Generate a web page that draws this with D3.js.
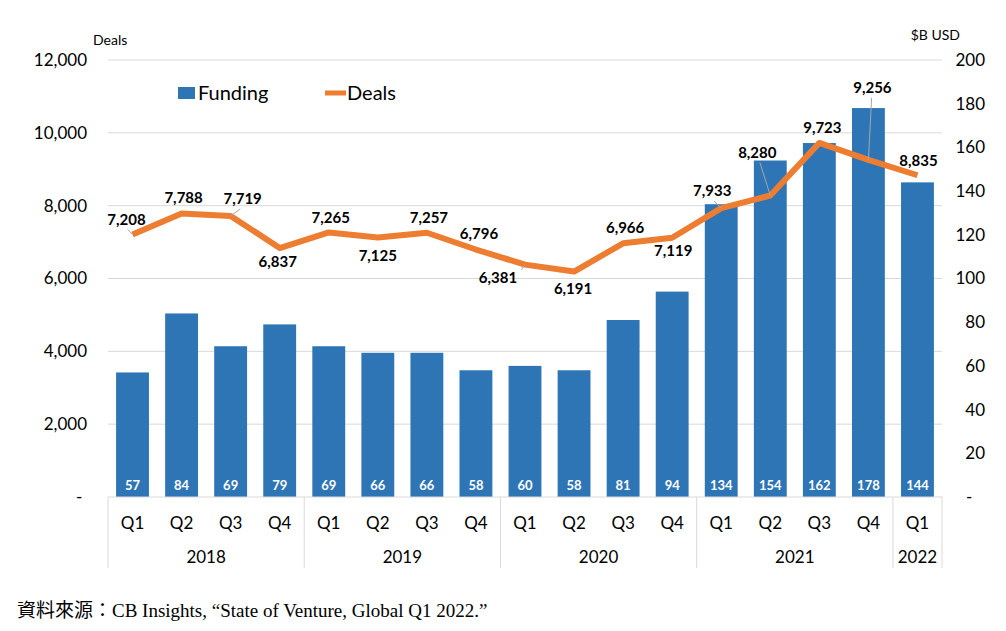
<!DOCTYPE html>
<html>
<head>
<meta charset="utf-8">
<script src="https://cdn.jsdelivr.net/npm/d3@7"></script>
<style>
  body { margin: 0; background: #fff; }
  text { font-family: Lato, "Open Sans", sans-serif; fill: #000; }
</style>
</head>
<body>
<script>
// Datos del gráfico
var quarters = ["Q1","Q2","Q3","Q4","Q1","Q2","Q3","Q4","Q1","Q2","Q3","Q4","Q1","Q2","Q3","Q4","Q1"];
var years = ["2018","2019","2020","2021","2022"];
var yearCounts = [4, 4, 4, 4, 1];
var funding = [57, 84, 69, 79, 69, 66, 66, 58, 60, 58, 81, 94, 134, 154, 162, 178, 144];
var deals = [7208, 7788, 7719, 6837, 7265, 7125, 7257, 6796, 6381, 6191, 6966, 7119, 7933, 8280, 9723, 9256, 8835];
var leftTicks = [0, 2000, 4000, 6000, 8000, 10000, 12000];
var rightTicks = [0, 20, 40, 60, 80, 100, 120, 140, 160, 180, 200];

// desplazamiento de las etiquetas de "Deals" respecto al punto (px)
var labelOffsets = [[-6,-15],[2,-16],[12,-17],[-2,14],[2,-15],[0,18],[2,-15],[3,-16],[-27,13],
                    [-1,17],[2,-16],[1,13],[-9,-17],[-13,-43],[3,-15],[4,-72],[1,-15]];
var leaderLines = [0, 2, 8, 12, 13, 15];

var W = 1006, H = 631;
var mLeft = 108, mRight = 942, mTop = 60, mBottom = 497;

var svg = d3.select("body").append("svg").attr("width", W).attr("height", H);

var idx = d3.range(quarters.length);
var x = d3.scaleBand().domain(idx).range([mLeft, mRight]).paddingInner(0.33).paddingOuter(0.165);
var yL = d3.scaleLinear().domain([0, 12000]).range([mBottom, mTop]);
var yR = d3.scaleLinear().domain([0, 200]).range([mBottom, mTop]);
var cx = i => x(i) + x.bandwidth() / 2;

// gridlines
svg.selectAll("line.grid").data(leftTicks.slice(1)).enter().append("line")
  .attr("x1", mLeft).attr("x2", mRight)
  .attr("y1", d => yL(d)).attr("y2", d => yL(d))
  .attr("stroke", "#d9d9d9").attr("stroke-width", 1);

// eje izquierdo
svg.selectAll("text.lt").data(leftTicks).enter().append("text")
  .attr("x", d => d === 0 ? 76 : 87)
  .attr("y", d => yL(d)).attr("dy", "0.35em")
  .attr("text-anchor", d => d === 0 ? "start" : "end")
  .style("font-size", "17px")
  .text(d => d === 0 ? "-" : d3.format(",")(d));

// eje derecho
svg.selectAll("text.rt").data(rightTicks).enter().append("text")
  .attr("x", d => d === 0 ? 966 : 985)
  .attr("y", d => yR(d)).attr("dy", "0.35em")
  .attr("text-anchor", d => d === 0 ? "start" : "end")
  .style("font-size", "17px")
  .text(d => d === 0 ? "-" : d);

svg.append("text").attr("x", 93).attr("y", 45).style("font-size", "14px").text("Deals");
svg.append("text").attr("x", 960).attr("y", 40).attr("text-anchor", "end").style("font-size", "14px").text("$B USD");

// barras
svg.selectAll("rect.bar").data(funding).enter().append("rect")
  .attr("x", (d, i) => x(i)).attr("width", x.bandwidth())
  .attr("y", d => yR(d)).attr("height", d => mBottom - yR(d))
  .attr("fill", "#2E75B6");

svg.selectAll("text.bl").data(funding).enter().append("text")
  .attr("x", (d, i) => cx(i)).attr("y", 485).attr("dy", "0.35em")
  .attr("text-anchor", "middle")
  .style("font-size", "13px").style("font-weight", "bold").style("fill", "#fff")
  .text(d => d);

// eje de categorías
svg.append("line").attr("x1", mLeft).attr("x2", mRight).attr("y1", mBottom).attr("y2", mBottom)
  .attr("stroke", "#d9d9d9");
var bounds = [0];
yearCounts.forEach(c => bounds.push(bounds[bounds.length - 1] + c));
var step = x.step();
var catX = k => mLeft + k * step;
svg.selectAll("line.sep").data(bounds).enter().append("line")
  .attr("x1", d => catX(d)).attr("x2", d => catX(d))
  .attr("y1", mBottom).attr("y2", 568)
  .attr("stroke", "#d9d9d9");

svg.selectAll("text.q").data(quarters).enter().append("text")
  .attr("x", (d, i) => cx(i)).attr("y", 523).attr("dy", "0.35em")
  .attr("text-anchor", "middle").style("font-size", "17px")
  .text(d => d);

svg.selectAll("text.yr").data(years).enter().append("text")
  .attr("x", (d, k) => (catX(bounds[k]) + catX(bounds[k + 1])) / 2)
  .attr("y", 557).attr("dy", "0.35em")
  .attr("text-anchor", "middle").style("font-size", "17px")
  .text(d => d);

// línea de deals
var line = d3.line().x((d, i) => cx(i)).y(d => yL(d));
svg.append("path").datum(deals)
  .attr("d", line).attr("fill", "none")
  .attr("stroke", "#ED7D31").attr("stroke-width", 6).attr("stroke-linejoin", "round");

// líneas guía de etiquetas
svg.selectAll("line.lead").data(leaderLines).enter().append("line")
  .attr("x1", i => cx(i)).attr("y1", i => yL(deals[i]))
  .attr("x2", i => cx(i) + labelOffsets[i][0] * 0.8 + (i === 8 ? 18 : 0))
  .attr("y2", i => yL(deals[i]) + labelOffsets[i][1] + (labelOffsets[i][1] < 0 ? 10 : -8))
  .attr("stroke", "#a6a6a6").attr("stroke-width", 1);

svg.selectAll("text.dl").data(deals).enter().append("text")
  .attr("x", (d, i) => cx(i) + labelOffsets[i][0])
  .attr("y", (d, i) => yL(d) + labelOffsets[i][1]).attr("dy", "0.35em")
  .attr("text-anchor", "middle")
  .style("font-size", "15px").style("font-weight", "bold")
  .text(d => d3.format(",")(d));

// leyenda
svg.append("rect").attr("x", 178).attr("y", 87).attr("width", 17).attr("height", 12).attr("fill", "#2E75B6");
svg.append("text").attr("x", 198).attr("y", 93).attr("dy", "0.35em").style("font-size", "20px").text("Funding");
svg.append("line").attr("x1", 325).attr("x2", 346).attr("y1", 93).attr("y2", 93)
  .attr("stroke", "#ED7D31").attr("stroke-width", 5);
svg.append("text").attr("x", 347).attr("y", 93).attr("dy", "0.35em").style("font-size", "20px").text("Deals");

// fuente
svg.append("text").attr("x", 17).attr("y", 617)
  .style("font-family", "'Liberation Serif', 'Noto Sans CJK TC', serif")
  .style("font-size", "19px")
  .text("資料來源：CB Insights, “State of Venture, Global Q1 2022.”");
</script>
</body>
</html>
